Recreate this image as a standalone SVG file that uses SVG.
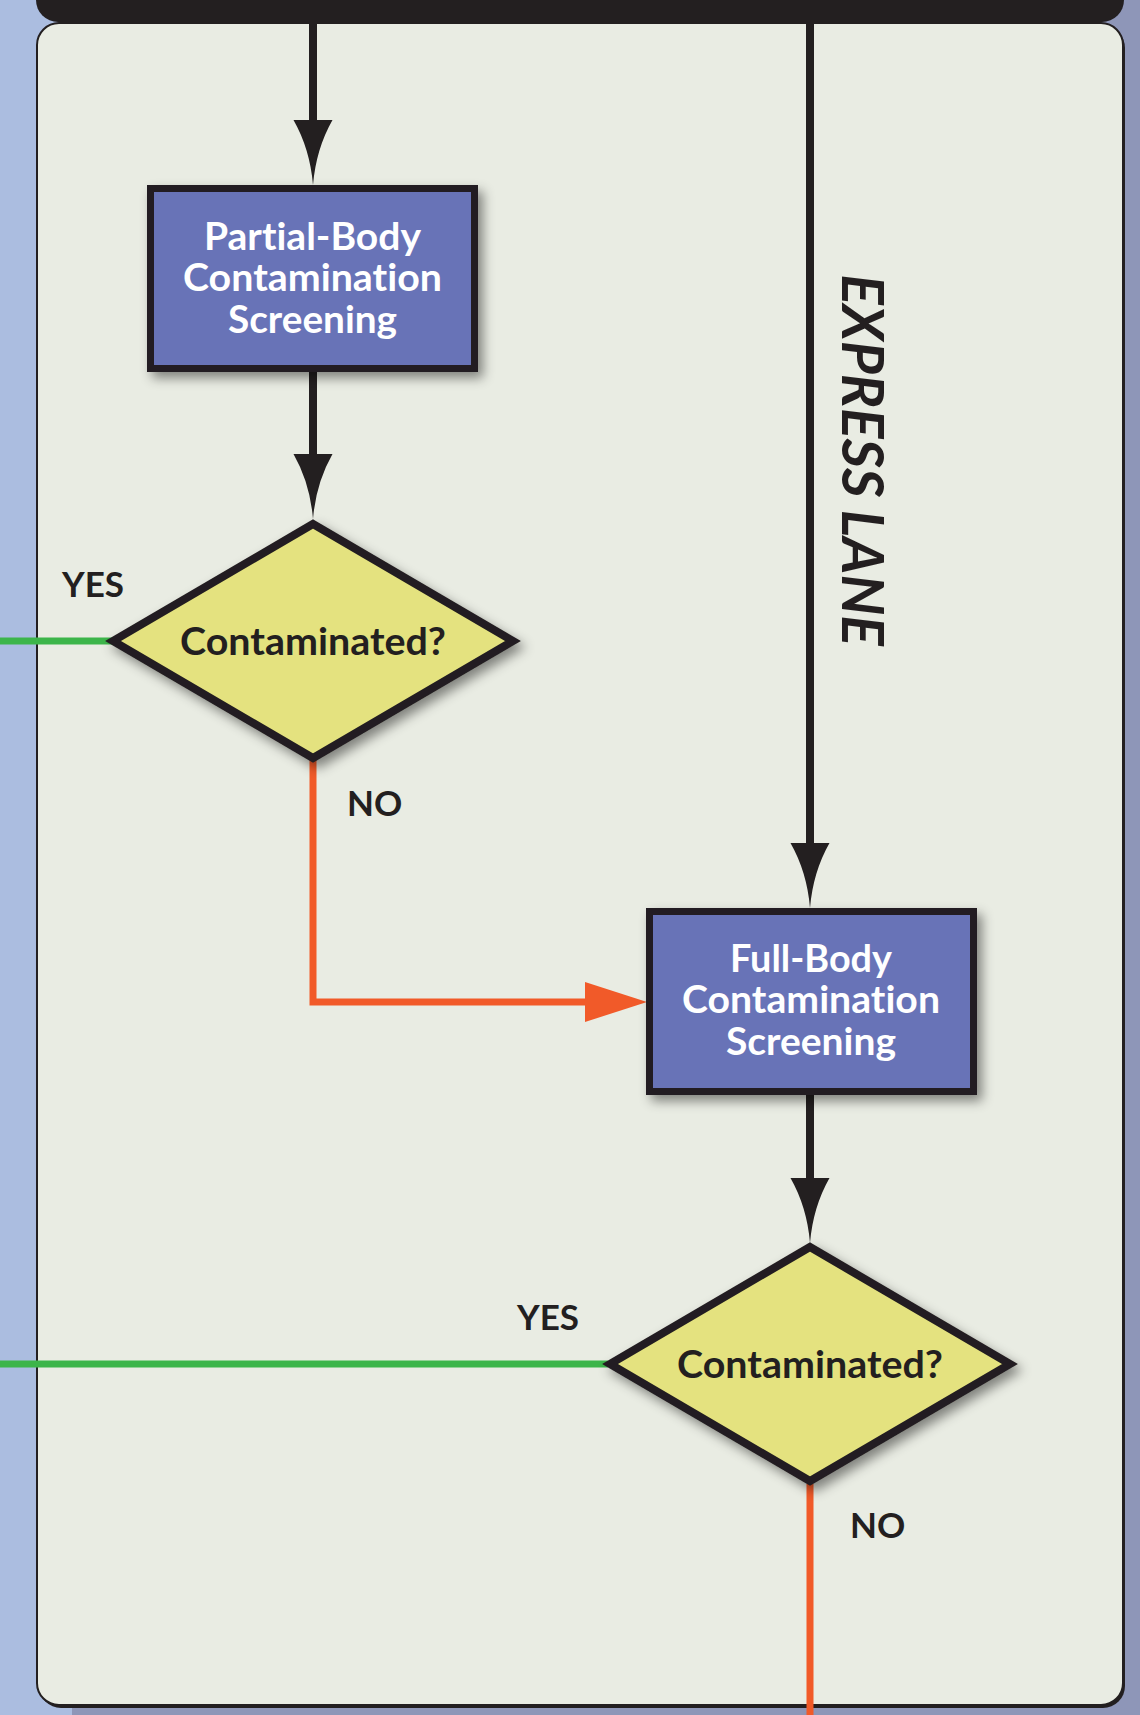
<svg xmlns="http://www.w3.org/2000/svg" width="1140" height="1715" viewBox="0 0 1140 1715">
  <style>
    text { font-variant-ligatures: none; }
    .box { fill: #6873b7; stroke: #231f20; stroke-width: 7; }
    .dia { fill: #e4e27f; stroke: #231f20; stroke-width: 8; stroke-linejoin: miter; stroke-miterlimit: 10; }
    .boxtxt { font-family: "Lato", "Open Sans", sans-serif; font-weight: 700; font-size: 38.5px; fill: #ffffff; text-anchor: middle; }
    .diatxt { font-family: "Lato", "Open Sans", sans-serif; font-weight: 700; font-size: 38px; fill: #231f20; text-anchor: middle; }
    .lbl { font-family: "Lato", "Open Sans", sans-serif; font-weight: 700; font-size: 35px; fill: #231f20; }
    .lane { font-family: "Lato", "Open Sans", sans-serif; font-weight: 700; font-style: italic; font-size: 57px; fill: #231f20; text-anchor: middle; }
    .blk { stroke: #231f20; stroke-width: 8; fill: none; }
    .grn { stroke: #3cb54a; stroke-width: 7; fill: none; }
    .org { stroke: #f15a29; stroke-width: 7; fill: none; }
  </style>
  <defs>
    <filter id="shadow" x="-20%" y="-20%" width="150%" height="150%">
      <feDropShadow dx="5" dy="6" stdDeviation="6" flood-color="#000" flood-opacity="0.45"/>
    </filter>
    <path id="headBlk" d="M0,0 Q-3,-36 -19.5,-65 L19.5,-65 Q3,-36 0,0 Z" fill="#231f20"/>
  </defs>

  <!-- background -->
  <rect x="0" y="0" width="1140" height="1715" fill="#8e96b8"/>
  <rect x="0" y="0" width="72" height="1715" fill="#abbde0"/>

  <!-- panel -->
  <rect x="39" y="26" width="1086" height="1682" rx="22" fill="#231f20"/>
  <rect x="37" y="23" width="1086" height="1682" rx="22" fill="#e9ece3" stroke="#231f20" stroke-width="2"/>
  <!-- top bar -->
  <rect x="36" y="-40" width="1088" height="62" rx="22" fill="#231f20"/>

  <!-- connectors -->
  <g id="connectors">
    <line class="blk" x1="313" y1="20" x2="313" y2="130"/>
    <use href="#headBlk" transform="translate(313,185)"/>
    <line class="blk" x1="313" y1="370" x2="313" y2="460"/>
    <use href="#headBlk" transform="translate(313,519)"/>
    <line class="blk" x1="810" y1="20" x2="810" y2="850"/>
    <use href="#headBlk" transform="translate(810,908)"/>
    <line class="blk" x1="810" y1="1093" x2="810" y2="1185"/>
    <use href="#headBlk" transform="translate(810,1243)"/>
    <line class="grn" x1="0" y1="641" x2="112" y2="641"/>
    <line class="grn" x1="0" y1="1364" x2="608" y2="1364"/>
    <polyline class="org" points="313,758 313,1002 590,1002"/>
    <path d="M585,982 L647,1002 L585,1022 Z" fill="#f15a29"/>
    <line class="org" x1="810" y1="1484" x2="810" y2="1715"/>
    <text class="lbl" x="62" y="597">YES</text>
    <text class="lbl" x="347" y="816">NO</text>
    <text class="lbl" x="517" y="1330">YES</text>
    <text class="lbl" x="850" y="1538">NO</text>
    <text class="lane" transform="translate(842,460) rotate(90)" x="0" y="0">EXPRESS LANE</text>
  </g>

  <g id="box1">
    <rect class="box" x="150.5" y="188.5" width="324" height="180" filter="url(#shadow)"/>
    <text class="boxtxt" x="312.5" y="250" textLength="217" lengthAdjust="spacingAndGlyphs">Partial-Body</text>
    <text class="boxtxt" x="312.5" y="291" textLength="259" lengthAdjust="spacingAndGlyphs">Contamination</text>
    <text class="boxtxt" x="312.5" y="333" textLength="169" lengthAdjust="spacingAndGlyphs">Screening</text>
  </g>

  <g id="decision1">
    <path class="dia" d="M313,524 L513,641 L313,758 L113,641 Z" filter="url(#shadow)"/>
    <text class="diatxt" x="313" y="655" textLength="266" lengthAdjust="spacingAndGlyphs">Contaminated?</text>
  </g>

  <g id="box2">
    <rect class="box" x="649.5" y="911.5" width="324" height="180" filter="url(#shadow)"/>
    <text class="boxtxt" x="811" y="972" textLength="162" lengthAdjust="spacingAndGlyphs">Full-Body</text>
    <text class="boxtxt" x="811" y="1013" textLength="258" lengthAdjust="spacingAndGlyphs">Contamination</text>
    <text class="boxtxt" x="811" y="1055" textLength="170" lengthAdjust="spacingAndGlyphs">Screening</text>
  </g>

  <g id="decision2">
    <path class="dia" d="M810,1247 L1010,1364 L810,1481 L610,1364 Z" filter="url(#shadow)"/>
    <text class="diatxt" x="810" y="1378" textLength="266" lengthAdjust="spacingAndGlyphs">Contaminated?</text>
  </g>
</svg>
